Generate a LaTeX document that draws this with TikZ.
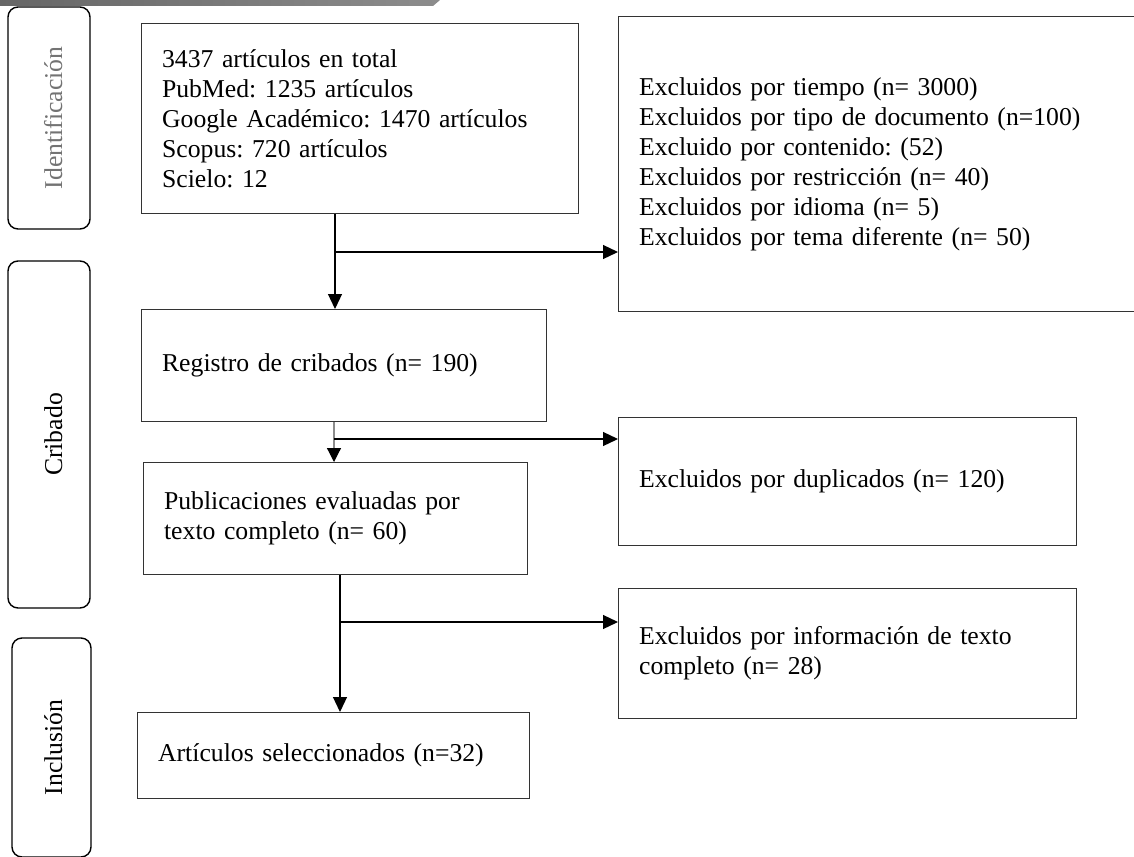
\documentclass[tikz,border=0pt]{standalone}
\usepackage{fontspec}
\setmainfont{Liberation Serif}
\usetikzlibrary{arrows.meta,calc}
\newcommand\mainfs{\fontsize{25.7}{30}\selectfont\frenchspacing}
\begin{document}
\begin{tikzpicture}[x=1pt,y=-1pt,
  box/.style={draw=black!80, line width=1.2pt, anchor=north west, inner xsep=20.5pt,
    inner ysep=0pt, align=left, font=\mainfs},
  side/.style={draw=black, line width=1.4pt, rounded corners=10pt},
  sidetext/.style={rotate=90, anchor=base, font=\mainfs},
  arr/.style={line width=1.2pt, -{Triangle[length=15pt,width=14pt]}},
  link/.style={line width=1.2pt}]
\useasboundingbox (0,0) rectangle (1134,856);
\shade[left color=black!60, right color=black!45] (0,0) -- (440,0) -- (433,6) -- (0,6) -- cycle;

% side phase boxes
\node[side, minimum width=82pt, minimum height=222pt] (s1) at (49,118) {};
\node[sidetext, text=black!55] (t1) at (62,118) {Identificación};
\node[side, minimum width=82pt, minimum height=347pt] (s2) at (49,434.5) {};
\node[sidetext] (t2) at (62,434.5) {Cribado};
\node[side, minimum width=79pt, minimum height=219pt] (s3) at (51.5,747.5) {};
\node[sidetext] (t3) at (62,747.5) {Inclusión};

% main boxes
\node[box, text width=396pt, minimum height=190pt] (b1) at (141,23)
  {3437 artículos en total\\PubMed: 1235 artículos\\Google Académico: 1470 artículos\\Scopus: 720 artículos\\Scielo: 12};
\node[box, text width=481pt, minimum height=295pt] (r1) at (618,16)
  {Excluidos por tiempo (n= 3000)\\Excluidos por tipo de documento (n=100)\\Excluido por contenido: (52)\\Excluidos por restricción (n= 40)\\Excluidos por idioma (n= 5)\\Excluidos por tema diferente (n= 50)};
\node[box, text width=364pt, minimum height=112pt] (b2) at (141,309)
  {Registro de cribados (n= 190)};
\node[box, text width=417pt, minimum height=128pt] (r2) at (618,417)
  {Excluidos por duplicados (n= 120)};
\node[box, text width=343pt, minimum height=112pt] (b3) at (143,462)
  {Publicaciones evaluadas por\\texto completo (n= 60)};
\node[box, text width=417pt, minimum height=130pt] (r3) at (618,588)
  {Excluidos por información de texto\\completo (n= 28)};
\node[box, text width=351pt, minimum height=86pt] (b4) at (137,712)
  {Artículos seleccionados (n=32)};

% connectors
\coordinate (c1) at (335,252);
\coordinate (c2) at (334,439);
\coordinate (c3) at (340,622);
\draw[arr] (b1.south -| c1) -- (b2.north -| c1);
\draw[arr] (c1) -- (r1.west |- c1);
\draw[arr, draw=black!45, -{Triangle[length=14pt,width=14pt,color=black]}] (b2.south -| c2) -- (b3.north -| c2);
\draw[arr] (c2) -- (r2.west |- c2);
\draw[arr] (b3.south -| c3) -- (b4.north -| c3);
\draw[arr] (c3) -- (r3.west |- c3);
\end{tikzpicture}
\end{document}
